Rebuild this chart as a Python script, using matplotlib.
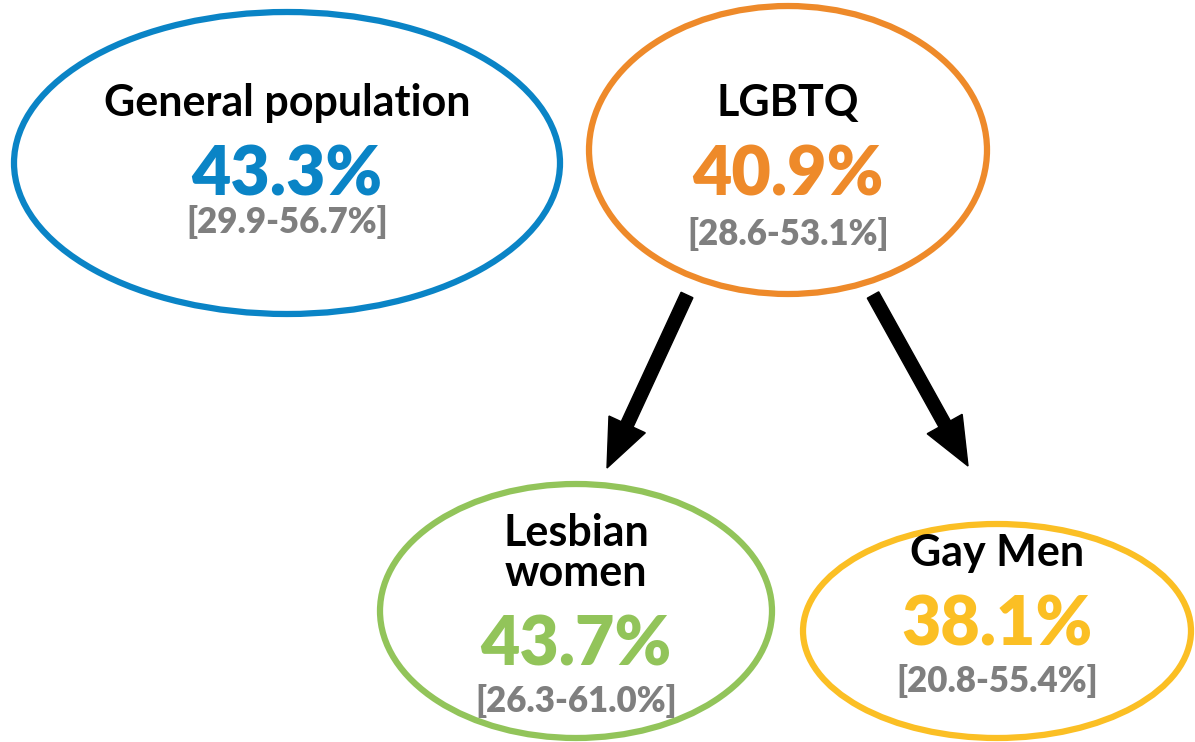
import matplotlib
matplotlib.use("Agg")
import matplotlib.pyplot as plt
from matplotlib.patches import Ellipse

# Data
groups = ["General population", "LGBTQ", "Lesbian\nwomen", "Gay Men"]
values = [43.3, 40.9, 43.7, 38.1]
lower = [29.9, 28.6, 26.3, 20.8]
upper = [56.7, 53.1, 61.0, 55.4]
colors = ["#0A84C6", "#EE8A2A", "#92C45A", "#FBBF24"]

# Layout (pixel coordinates, y downward)
centers = [(287, 163), (788, 150), (576, 611), (997, 631)]
sizes = [(546, 302), (398, 288), (392, 254), (388, 214)]
label_y = [103, 103, 553, 553]
value_y = [176, 176, 646, 626]
ci_y = [222, 234, 701, 681]
arrows = [((687, 295), (607, 468)), ((873, 295), (968, 466))]

plt.rcParams['font.family'] = ['Lato', 'DejaVu Sans']
fig = plt.figure(figsize=(11.95, 7.42), dpi=100)
ax = fig.add_axes([0, 0, 1, 1])
ax.set_xlim(0, 1195)
ax.set_ylim(742, 0)
ax.axis('off')

for i, g in enumerate(groups):
    cx, cy = centers[i]
    w, h = sizes[i]
    ax.add_patch(Ellipse((cx, cy), w, h, fill=False, edgecolor=colors[i], linewidth=4.5))
    ax.text(cx, label_y[i], g, ha='center', va='center', fontsize=31, fontweight='bold',
            color='black', linespacing=1.0)
    ax.text(cx, value_y[i], f"{values[i]:.1f}%", ha='center', va='center', fontsize=49,
            fontweight='heavy', color=colors[i])
    ax.text(cx, ci_y[i], f"[{lower[i]:.1f}-{upper[i]:.1f}%]", ha='center', va='center',
            fontsize=25, fontweight='heavy', color='#7F7F7F')

for (x0, y0), (x1, y1) in arrows:
    ax.arrow(x0, y0, x1 - x0, y1 - y0, width=13, head_width=40, head_length=48,
             length_includes_head=True, color='black')

fig.savefig("out.png", dpi=100)
